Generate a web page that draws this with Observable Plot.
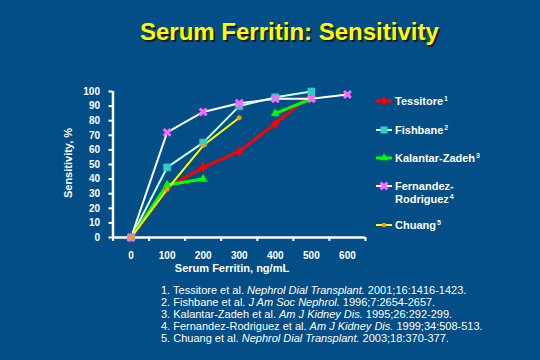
<!DOCTYPE html>
<html>
<head>
<meta charset="utf-8">
<script src="https://cdn.jsdelivr.net/npm/d3@7"></script>
<script src="https://cdn.jsdelivr.net/npm/@observablehq/plot@0.6"></script>
<style>
  html, body { margin: 0; padding: 0; }
  body { width: 540px; height: 360px; background: #034e86; position: relative; overflow: hidden;
         font-family: "Liberation Sans", Arial, sans-serif; color: #fff; }
  #title { position: absolute; left: 140px; top: 20px; font-size: 24px; line-height: 24px; font-weight: bold;
           color: #ffff00; text-shadow: 2px 2px 0 #1b1b1b; white-space: nowrap; }
  #chart { position: absolute; left: 0; top: 60px; }
  .ylab { position: absolute; left: 68px; top: 163px; transform: translate(-50%, -50%) rotate(-90deg);
          font-size: 11px; font-weight: bold; white-space: nowrap; }
  .xlab { position: absolute; left: 232px; top: 262px; transform: translateX(-50%);
          font-size: 11px; line-height: 12px; font-weight: bold; white-space: nowrap; }
  .leg { position: absolute; left: 376px; font-size: 11px; line-height: 13px; font-weight: bold; white-space: nowrap; }
  .leg svg { position: absolute; left: 0; top: 0; }
  .leg .txt { position: absolute; left: 19px; top: 0; }
  .leg sup { font-size: 7px; vertical-align: 0; position: relative; top: -4px; margin-left: 1px; }
  #refs { position: absolute; left: 161px; top: 284px; font-size: 11px; line-height: 12px; white-space: nowrap; }
</style>
</head>
<body>
<div id="title">Serum Ferritin: Sensitivity</div>
<div id="chart"></div>
<div class="ylab">Sensitivity, %</div>
<div class="xlab">Serum Ferritin, ng/mL</div>
<div id="legend"></div>
<div id="refs"></div>
<script>
// ---- data ----
const ferritin = [0, 100, 200, 300, 400, 500, 600];
const yTicks = [0, 10, 20, 30, 40, 50, 60, 70, 80, 90, 100];
const tessitore = [0, 34, 48, 59, 78, 98, null];
const fishbane  = [0, 48, 65, 90, 96, 100, null];
const kalantar  = [0, 36, 40, null, 85, 95, null];
const fernandez = [0, 72, 86, 92, 95, 95, 98];
const chuang    = [0, 33, 63, 82, null, null, null];
const seriesNames = ["Tessitore", "Fishbane", "Kalantar-Zadeh", "Fernandez-Rodriguez", "Chuang"];
const seriesSup = ["1", "2", "3", "4", "5"];
const references = [
  ["1. Tessitore et al. ", "Nephrol Dial Transplant.", " 2001;16:1416-1423."],
  ["2. Fishbane et al. ", "J Am Soc Nephrol.", " 1996;7:2654-2657."],
  ["3. Kalantar-Zadeh et al. ", "Am J Kidney Dis.", " 1995;26:292-299."],
  ["4. Fernandez-Rodriguez et al. ", "Am J Kidney Dis.", " 1999;34:508-513."],
  ["5. Chuang et al. ", "Nephrol Dial Transplant.", " 2003;18:370-377."]
];

// ---- styles ----
const styles = [
  {line: "#ff0000", lw: 3, mark: "#ff0000", symbol: "diamond", r: 3.2, legendLines: ["Tessitore"]},
  {line: "#ccffff", lw: 2, mark: "#33cccc", symbol: "square", r: 4, legendLines: ["Fishbane"]},
  {line: "#00ff00", lw: 3, mark: "#00ff00", symbol: "triangle", r: 3, legendLines: ["Kalantar-Zadeh"]},
  {line: "#ffffff", lw: 2, mark: "#ff66ff", symbol: "times", r: 3.2, legendLines: ["Fernandez-", "Rodriguez"], stroke: true},
  {line: "#ffff00", lw: 2, mark: "#ff9900", symbol: "circle", r: 2.2, legendLines: ["Chuang"]}
];
const values = [tessitore, fishbane, kalantar, fernandez, chuang];

const rows = [];
seriesNames.forEach((name, i) => {
  ferritin.forEach((f, j) => rows.push({series: name, x: f, y: values[i][j]}));
});

const boundaries = d3.range(-50, 651, 100);

const marks = [
  Plot.axisY({ticks: yTicks, tickSize: 4, tickPadding: 9, label: null, stroke: "white", strokeWidth: 2}),
  Plot.axisX({ticks: boundaries, tickSize: 4, tickFormat: () => "", label: null, stroke: "white", strokeWidth: 2}),
  Plot.axisX({ticks: ferritin, tickSize: 0, tickPadding: 14, label: null}),
  Plot.ruleX([-50], {stroke: "white", strokeWidth: 2.5}),
  Plot.ruleY([0], {stroke: "white", strokeWidth: 2.5})
];
seriesNames.forEach((name, i) => {
  const s = styles[i];
  const data = rows.filter(d => d.series === name);
  marks.push(Plot.line(data, {x: "x", y: "y", stroke: s.line, strokeWidth: s.lw}));
});
seriesNames.forEach((name, i) => {
  const s = styles[i];
  const data = rows.filter(d => d.series === name && d.y != null);
  if (s.stroke) {
    marks.push(Plot.dot(data, {x: "x", y: "y", symbol: s.symbol, r: s.r, fill: "none", stroke: s.mark, strokeWidth: 3}));
  } else {
    marks.push(Plot.dot(data, {x: "x", y: "y", symbol: s.symbol, r: s.r, fill: s.mark, stroke: s.mark, strokeWidth: 0.5}));
  }
});

const chart = Plot.plot({
  width: 380, height: 220,
  marginLeft: 112.5, marginRight: 15, marginTop: 31, marginBottom: 43,
  x: {domain: [-50, 650]},
  y: {domain: [0, 100]},
  style: {background: "transparent", color: "white", fontFamily: "'Liberation Sans', Arial, sans-serif",
          fontWeight: "bold", fontSize: "10px", overflow: "visible"},
  marks
});
document.getElementById("chart").appendChild(chart);

// ---- legend ----
const legTops = [95, 124, 152, 180, 219];
const legend = d3.select("#legend");
const symMap = {diamond: d3.symbolDiamond, square: d3.symbolSquare, triangle: d3.symbolTriangle, times: d3.symbolTimes, circle: d3.symbolCircle};
seriesNames.forEach((name, i) => {
  const s = styles[i];
  const item = legend.append("div").attr("class", "leg").style("top", legTops[i] + "px");
  const svg = item.append("svg").attr("width", 18).attr("height", 13);
  svg.append("line").attr("x1", 0).attr("x2", 16).attr("y1", 6).attr("y2", 6)
     .attr("stroke", s.line).attr("stroke-width", s.lw);
  const path = d3.symbol(symMap[s.symbol], Math.PI * s.r * s.r)();
  const p = svg.append("path").attr("d", path).attr("transform", "translate(8,6)");
  if (s.stroke) p.attr("fill", "none").attr("stroke", s.mark).attr("stroke-width", 3);
  else p.attr("fill", s.mark);
  const txt = item.append("div").attr("class", "txt");
  s.legendLines.forEach((ln, k) => {
    const d = txt.append("div").text(ln);
    if (k === s.legendLines.length - 1) d.append("sup").text(seriesSup[i]);
  });
});

// ---- references ----
const refs = d3.select("#refs");
references.forEach(r => {
  const d = refs.append("div");
  d.append("span").text(r[0]);
  d.append("i").text(r[1]);
  d.append("span").text(r[2]);
});
</script>
</body>
</html>
